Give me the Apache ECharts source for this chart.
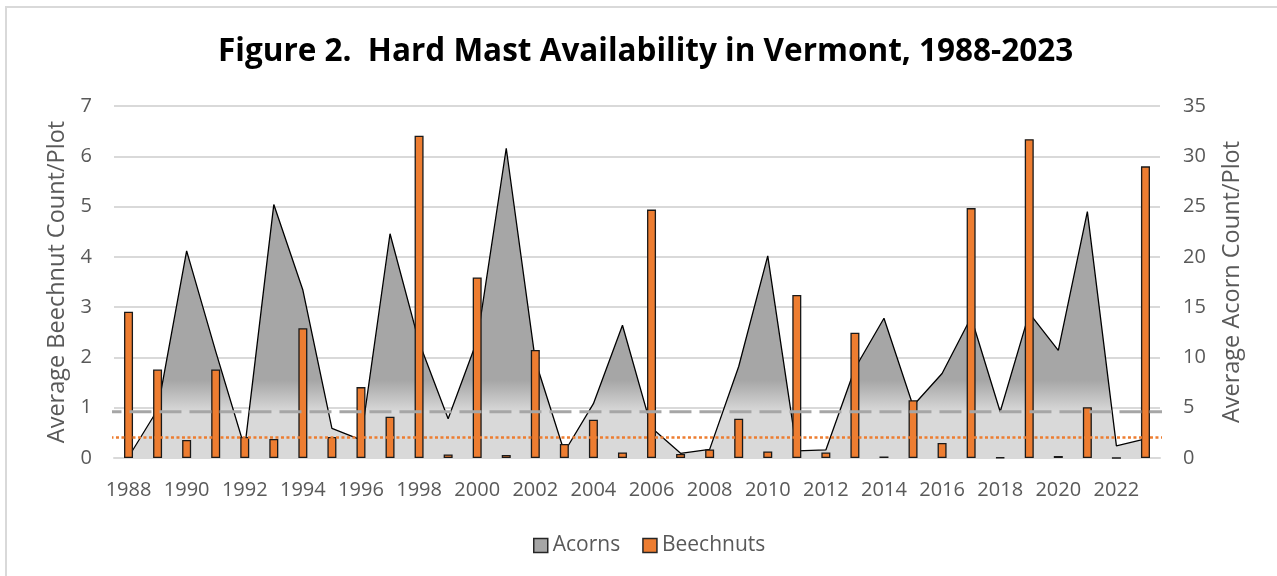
<!DOCTYPE html>
<html><head><meta charset="utf-8">
<script src="https://cdn.jsdelivr.net/npm/echarts@6/dist/echarts.min.js"></script>
<style>html,body{margin:0;padding:0;background:#fff}#c{width:1277px;height:576px}</style>
</head><body><div id="c"></div>
<script>
const years = ['1988','1989','1990','1991','1992','1993','1994','1995','1996','1997','1998','1999',
  '2000','2001','2002','2003','2004','2005','2006','2007','2008','2009','2010','2011',
  '2012','2013','2014','2015','2016','2017','2018','2019','2020','2021','2022','2023'];
const beechnuts = [2.91,1.76,0.36,1.76,0.42,0.38,2.58,0.42,1.41,0.82,6.41,0.07,
  3.59,0.06,2.15,0.28,0.76,0.11,4.94,0.08,0.17,0.78,0.13,3.24,
  0.11,2.49,0.03,1.15,0.30,4.97,0.01,6.34,0.04,1.01,0.00,5.80];
const acorns = [0.1,4.8,20.6,10.6,1.0,25.2,16.7,2.95,1.8,22.3,11.5,3.9,
  11.7,30.8,9.7,0.6,5.4,13.2,3.0,0.47,0.86,9.1,20.1,0.7,
  0.8,8.9,13.9,5.2,8.4,14.0,4.6,14.4,10.7,24.5,1.2,1.9];
const acornThreshold = 4.6;
const beechThreshold = 0.41;
const beechAxis = {min:0, max:7, interval:1};
const acornAxis = {min:0, max:35, interval:5};

const FONT = 'Open Sans';
const LBL = '#595959';
const chart = echarts.init(document.getElementById('c'), null, {renderer:'canvas'});
const ext = 0.5;
const option = {
  animation:false,
  backgroundColor:'#fff',
  graphic:[{type:'rect', shape:{x:6, y:7, width:1400, height:700}, style:{fill:'none', stroke:'#d9d9d9', lineWidth:2}, silent:true, z:-1}],
  title:{text:'Figure 2.  Hard Mast Availability in Vermont, 1988-2023', left:213, top:31,
    textStyle:{fontFamily:'Open Sans', fontWeight:'bold', fontSize:31.5, color:'#000'}},
  grid:{left:114, right:117, top:106, bottom:118},
  legend:{top:530, left:528, itemWidth:14, itemHeight:14, itemGap:22,
    textStyle:{fontSize:21, color:LBL, fontFamily:FONT},
    data:[{name:'Acorns', icon:'rect', itemStyle:{color:'#a6a6a6', borderColor:'#262626', borderWidth:1.5}},
          {name:'Beechnuts', icon:'rect', itemStyle:{color:'#ed7d31', borderColor:'#262626', borderWidth:1.5}}]},
  xAxis:[{type:'category', data:years, boundaryGap:true,
      axisLine:{lineStyle:{color:'#d9d9d9', width:2}}, axisTick:{show:false},
      axisLabel:{interval:1, color:LBL, fontSize:20, fontFamily:FONT, margin:22}},
    {type:'value', min:0, max:years.length, show:false}],
  yAxis:[{type:'value', min:beechAxis.min, max:beechAxis.max, interval:beechAxis.interval,
      name:'Average Beechnut Count/Plot', nameLocation:'middle', nameGap:45,
      nameTextStyle:{fontSize:23.5, color:LBL, fontFamily:FONT},
      axisLabel:{color:LBL, fontSize:20, fontFamily:FONT, margin:22},
      splitLine:{lineStyle:{color:'#d9d9d9', width:2}}, axisLine:{show:false}, axisTick:{show:false}},
    {type:'value', min:acornAxis.min, max:acornAxis.max, interval:acornAxis.interval, position:'right',
      name:'Average Acorn Count/Plot', nameLocation:'middle', nameGap:60,
      nameTextStyle:{fontSize:23.5, color:LBL, fontFamily:FONT},
      axisLabel:{color:LBL, fontSize:20, fontFamily:FONT, margin:23},
      splitLine:{show:false}, axisLine:{show:false}, axisTick:{show:false}}],
  series:[
    {name:'Acorns', type:'line', yAxisIndex:1, data:acorns, symbol:'none', z:2,
      lineStyle:{color:'#000', width:1.3},
      areaStyle:{opacity:1, color:new echarts.graphic.LinearGradient(0,380,0,412,
        [{offset:0,color:'#a6a6a6'},{offset:1,color:'#d9d9d9'}], true)}},
    {name:'Beechnuts', type:'bar', data:beechnuts, barWidth:9, z:3,
      itemStyle:{color:'#ed7d31', borderColor:'#1a1a1a', borderWidth:1.3}},
    {type:'line', xAxisIndex:1, yAxisIndex:1, clip:false, symbol:'none', silent:true, z:4,
      data:[[-ext, acornThreshold],[years.length+ext, acornThreshold]],
      lineStyle:{color:'#a6a6a6', width:3, type:[22,8]}},
    {type:'line', xAxisIndex:1, yAxisIndex:0, clip:false, symbol:'none', silent:true, z:5,
      data:[[-ext, beechThreshold],[years.length+ext, beechThreshold]],
      lineStyle:{color:'#ed7d31', width:2.5, type:[3,2.5]}}
  ]
};
chart.setOption(option);
</script></body></html>
